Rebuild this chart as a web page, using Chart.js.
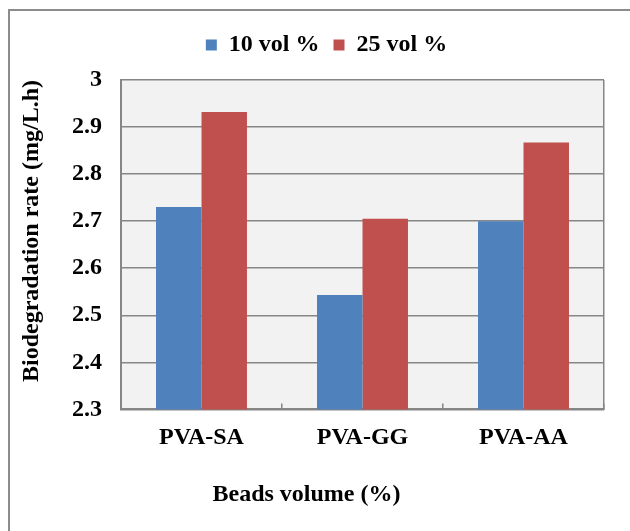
<!DOCTYPE html>
<html>
<head>
<meta charset="utf-8">
<script src="https://cdn.jsdelivr.net/npm/chart.js@4.4.1/dist/chart.umd.min.js"></script>
<style>
  html, body { margin: 0; padding: 0; background: #fff; }
  #wrap { position: relative; width: 630px; height: 531px; overflow: hidden; }
  #frame { position: absolute; left: 8px; top: 9px; width: 700px; height: 600px; border: 2px solid #8c8c8c; }
  #myChart { position: absolute; left: 0; top: 0; }
</style>
</head>
<body>
<div id="wrap">
  <div id="frame"></div>
  <canvas id="myChart" width="630" height="531"></canvas>
</div>
<script>
var beads = ["PVA-SA", "PVA-GG", "PVA-AA"];
var vol10 = [2.73, 2.543, 2.70];
var vol25 = [2.932, 2.705, 2.867];
var yTicks = [2.3, 2.4, 2.5, 2.6, 2.7, 2.8, 2.9, 3];

var gridGray = "#868686";

Chart.defaults.font.family = "'Liberation Serif', 'Times New Roman', serif";
Chart.defaults.font.weight = "bold";
Chart.defaults.color = "#000";

// grey plot background like the Excel chart
var plotBg = {
  id: "plotBg",
  beforeDraw: function (chart) {
    var a = chart.chartArea, c = chart.ctx;
    c.save();
    c.fillStyle = "#f2f2f2";
    c.fillRect(a.left, a.top, a.right - a.left, a.bottom - a.top);
    c.restore();
  }
};

// legend sits a bit right of centre in the original
var legendNudge = {
  id: "legendNudge",
  afterLayout: function (chart) {
    chart.legend.left += 20;
    chart.legend.right += 20;
  }
};

var ctx = document.getElementById("myChart");
var myChart = new Chart(ctx, {
  type: "bar",
  data: {
    labels: beads,
    datasets: [{
      label: "10 vol %",
      data: vol10,
      backgroundColor: "#4f81bd"
    },
    {
      label: "25 vol %",
      data: vol25,
      backgroundColor: "#c0504d"
    }]
  },
  options: {
    responsive: false,
    animation: false,
    categoryPercentage: 0.565,
    barPercentage: 1,
    layout: { padding: { left: 9, right: 26, top: 19, bottom: 0 } },
    plugins: {
      tooltip: { enabled: false },
      legend: {
        position: "top",
        labels: {
          boxWidth: 11,
          boxHeight: 11,
          padding: 14,
          font: { size: 24, weight: "bold" }
        }
      },
      // empty spacer between legend and plot
      subtitle: {
        display: true,
        text: "",
        position: "top",
        weight: 500,
        font: { size: 10, lineHeight: 1 },
        padding: { top: 1, bottom: 2 }
      },
      title: {
        display: true,
        text: "Beads volume (%)",
        position: "bottom",
        font: { size: 24, weight: "bold" },
        padding: { top: 8, bottom: 22 }
      }
    },
    scales: {
      x: {
        border: { display: true, color: gridGray, width: 2 },
        grid: {
          drawOnChartArea: true,
          drawTicks: true,
          tickLength: -6,
          tickColor: gridGray,
          lineWidth: 1.5,
          color: function (c) {
            // the closing line past the last category has no tick index
            return (c.index === 0 || c.index === undefined) ? gridGray : "rgba(0,0,0,0)";
          }
        },
        ticks: { padding: 20, font: { size: 24, weight: "bold" } }
      },
      y: {
        min: yTicks[0],
        max: yTicks[yTicks.length - 1],
        afterFit: function (s) { s.width = 112; },
        border: { display: true, color: gridGray, width: 2 },
        grid: { color: gridGray, lineWidth: 1.5, drawTicks: false },
        ticks: {
          stepSize: 0.1,
          padding: 19,
          font: { size: 24, weight: "bold" },
          callback: function (v) { return String(Number(v.toFixed(1))); }
        },
        title: {
          display: true,
          text: "Biodegradation rate (mg/L.h)",
          align: "end",
          font: { size: 24, weight: "bold" },
          padding: { top: 8 }
        }
      }
    }
  },
  plugins: [plotBg, legendNudge]
});
</script>
</body>
</html>
